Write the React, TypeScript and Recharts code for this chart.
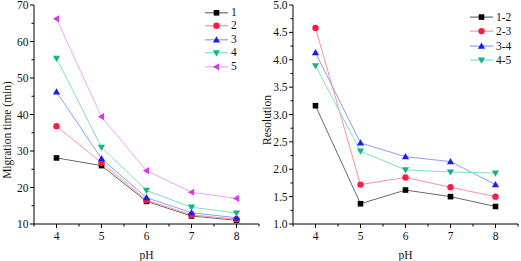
import React from 'react';
import { LineChart, Line, XAxis, YAxis, Legend } from 'recharts';

const pH = [4, 5, 6, 7, 8];
const time1 = [28.1, 26.0, 16.2, 12.2, 11.0];
const time2 = [36.8, 26.8, 16.5, 12.5, 11.3];
const time3 = [46.2, 27.9, 17.2, 13.1, 11.7];
const time4 = [55.4, 31.0, 19.2, 14.6, 13.0];
const time5 = [66.2, 39.4, 24.6, 18.7, 17.0];
const res12 = [3.16, 1.37, 1.62, 1.5, 1.32];
const res23 = [4.58, 1.72, 1.85, 1.67, 1.5];
const res34 = [4.13, 2.48, 2.23, 2.14, 1.72];
const res45 = [3.89, 2.33, 1.99, 1.95, 1.93];

const xTicks = [3.5, 4, 4.5, 5, 5.5, 6, 6.5, 7, 7.5, 8, 8.5];
const timeTicks = [10, 15, 20, 25, 30, 35, 40, 45, 50, 55, 60, 65, 70];
const resTicks = [1, 1.25, 1.5, 1.75, 2, 2.25, 2.5, 2.75, 3, 3.25, 3.5, 3.75, 4, 4.25, 4.5, 4.75, 5];

const timeNames = ['1', '2', '3', '4', '5'];
const resNames = ['1-2', '2-3', '3-4', '4-5'];

const FONT = '"Liberation Serif", "Times New Roman", serif';

const styles = [
  { shape: 'square', marker: '#000000', line: '#6a6a6a' },
  { shape: 'circle', marker: '#ff1a40', line: '#ff8fa3' },
  { shape: 'up', marker: '#1a1aff', line: '#8c9cff' },
  { shape: 'down', marker: '#14b486', line: '#7fe0c0' },
  { shape: 'left', marker: '#d23ce6', line: '#f0a3ff' },
];

const timeData = pH.map((p, i) => ({
  pH: p,
  s1: time1[i],
  s2: time2[i],
  s3: time3[i],
  s4: time4[i],
  s5: time5[i],
}));
const resData = pH.map((p, i) => ({
  pH: p,
  s1: res12[i],
  s2: res23[i],
  s3: res34[i],
  s4: res45[i],
}));

function Marker({ cx, cy, shape, color }: any) {
  if (cx == null || cy == null) return null;
  if (shape === 'square')
    return <rect x={cx - 2.8} y={cy - 2.8} width={5.6} height={5.6} fill={color} />;
  if (shape === 'circle') return <circle cx={cx} cy={cy} r={3.2} fill={color} />;
  let pts = '';
  if (shape === 'up') pts = `${cx},${cy - 3.6} ${cx - 3.6},${cy + 2.6} ${cx + 3.6},${cy + 2.6}`;
  if (shape === 'down') pts = `${cx},${cy + 3.6} ${cx - 3.6},${cy - 2.6} ${cx + 3.6},${cy - 2.6}`;
  if (shape === 'left') pts = `${cx - 3.6},${cy} ${cx + 2.6},${cy - 3.6} ${cx + 2.6},${cy + 3.6}`;
  return <polygon points={pts} fill={color} />;
}

const makeDot = (shape: string, color: string) => (props: any) =>
  <Marker key={props.key ?? `${shape}-${props.index}`} cx={props.cx} cy={props.cy} shape={shape} color={color} />;

const XTick = (props: any) => {
  const { x, y, payload } = props;
  const major = Number.isInteger(payload.value);
  return (
    <g>
      <line x1={x} x2={x} y1={y} y2={y + (major ? 4 : 2.5)} stroke="#000" strokeWidth={1} />
      {major && (
        <text x={x} y={y + 11.5} textAnchor="middle" dominantBaseline="central" fontFamily={FONT} fontSize={11.5} fill="#111">
          {payload.value}
        </text>
      )}
    </g>
  );
};

const makeYTick = (isMajor: (v: number) => boolean, fmt: (v: number) => string) => (props: any) => {
  const { x, y, payload } = props;
  const major = isMajor(payload.value);
  return (
    <g>
      <line x1={x} x2={x - (major ? 4 : 2.5)} y1={y} y2={y} stroke="#000" strokeWidth={1} />
      {major && (
        <text x={x - 5.5} y={y} textAnchor="end" dominantBaseline="central" fontFamily={FONT} fontSize={11.5} fill="#111">
          {fmt(payload.value)}
        </text>
      )}
    </g>
  );
};

const TimeYTick = makeYTick((v) => v % 10 === 0, (v) => String(v));
const ResYTick = makeYTick((v) => Math.abs(v * 2 - Math.round(v * 2)) < 1e-6, (v) => v.toFixed(1));

const makeLegend = (names: string[], rowH: number) => () => (
  <div style={{ fontFamily: FONT, fontSize: 11.5, color: '#111' }}>
    {names.map((n, i) => (
      <div key={n} style={{ display: 'flex', alignItems: 'center', height: rowH }}>
        <svg width={26} height={rowH} style={{ display: 'block' }}>
          <line x1={0} x2={23} y1={rowH / 2} y2={rowH / 2} stroke={styles[i].line} strokeWidth={1.2} />
          <Marker cx={11.5} cy={rowH / 2} shape={styles[i].shape} color={styles[i].marker} />
        </svg>
        <span style={{ lineHeight: `${rowH}px` }}>{n}</span>
      </div>
    ))}
  </div>
);

const TimeLegend = makeLegend(timeNames, 13.6);
const ResLegend = makeLegend(resNames, 14.2);

const yTitle = (text: string, dx: number, dy: number) => (props: any) => {
  const vb = props.viewBox;
  const cx = vb.x + dx;
  const cy = vb.y + vb.height / 2 + dy;
  return (
    <text x={cx} y={cy} transform={`rotate(-90 ${cx} ${cy})`} textAnchor="middle" dominantBaseline="central" fontFamily={FONT} fontSize={11.5} fill="#111">
      {text}
    </text>
  );
};

const xTitle = (props: any) => {
  const vb = props.viewBox;
  return (
    <text x={vb.x + vb.width / 2} y={vb.y + 30.5} textAnchor="middle" dominantBaseline="central" fontFamily={FONT} fontSize={11.5} fill="#111">
      pH
    </text>
  );
};

export default function App() {
  const timeKeys = ['s1', 's2', 's3', 's4', 's5'];
  const resKeys = ['s1', 's2', 's3', 's4'];
  return (
    <div style={{ position: 'absolute', left: 0, top: 0, width: 521, height: 261, background: '#fff', display: 'flex' }}>
      <LineChart width={260} height={261} data={timeData} margin={{ top: 5, right: 1, bottom: 0, left: 0 }}>
        <XAxis
          dataKey="pH"
          type="number"
          domain={[3.5, 8.5]}
          ticks={xTicks}
          interval={0}
          tickSize={0}
          tickMargin={0}
          tick={<XTick />}
          height={37}
          stroke="#000"
          label={{ content: xTitle }}
        />
        <YAxis
          type="number"
          domain={[10, 70]}
          ticks={timeTicks}
          interval={0}
          tickSize={0}
          tickMargin={0}
          tick={<TimeYTick />}
          width={34}
          stroke="#000"
          label={{ content: yTitle('Migration time (min)', 6.5, 15.5) }}
        />
        <Legend
          layout="vertical"
          align="center"
          verticalAlign="middle"
          content={TimeLegend}
          wrapperStyle={{ position: 'absolute', left: 205, top: 5.5, width: 50 }}
        />
        {timeKeys.map((k, i) => (
          <Line
            key={k}
            dataKey={k}
            name={timeNames[i]}
            stroke={styles[i].line}
            strokeWidth={1}
            dot={makeDot(styles[i].shape, styles[i].marker)}
            activeDot={false}
            isAnimationActive={false}
          />
        ))}
      </LineChart>
      <LineChart width={261} height={261} data={resData} margin={{ top: 5, right: 3, bottom: 0, left: 0 }}>
        <XAxis
          dataKey="pH"
          type="number"
          domain={[3.5, 8.5]}
          ticks={xTicks}
          interval={0}
          tickSize={0}
          tickMargin={0}
          tick={<XTick />}
          height={37}
          stroke="#000"
          label={{ content: xTitle }}
        />
        <YAxis
          type="number"
          domain={[1, 5]}
          ticks={resTicks}
          interval={0}
          tickSize={0}
          tickMargin={0}
          tick={<ResYTick />}
          width={33}
          stroke="#000"
          label={{ content: yTitle('Resolution', 7, 5.5) }}
        />
        <Legend
          layout="vertical"
          align="center"
          verticalAlign="middle"
          content={ResLegend}
          wrapperStyle={{ position: 'absolute', left: 210, top: 10.2, width: 50 }}
        />
        {resKeys.map((k, i) => (
          <Line
            key={k}
            dataKey={k}
            name={resNames[i]}
            stroke={styles[i].line}
            strokeWidth={1}
            dot={makeDot(styles[i].shape, styles[i].marker)}
            activeDot={false}
            isAnimationActive={false}
          />
        ))}
      </LineChart>
    </div>
  );
}
